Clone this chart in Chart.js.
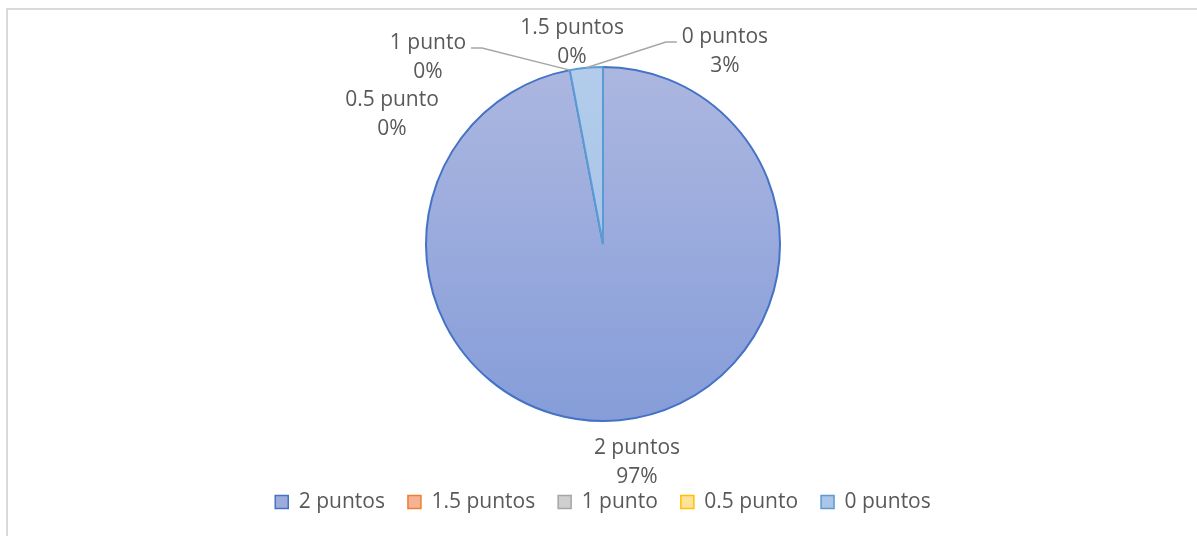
<!DOCTYPE html>
<html>
<head>
<meta charset="utf-8">
<script src="https://cdn.jsdelivr.net/npm/chart.js@4"></script>
<style>
  html, body { margin: 0; padding: 0; background: #fff; }
  #wrap { position: relative; width: 1197px; height: 536px; overflow: hidden; }
  #frame {
    position: absolute; left: 6px; top: 8px; right: -10px; bottom: -10px;
    border-top: 2px solid #d9d9d9; border-left: 2px solid #d9d9d9;
  }
  canvas { position: absolute; left: 0; top: 0; }
</style>
</head>
<body>
<div id="wrap">
  <div id="frame"></div>
  <canvas id="myChart" width="1197" height="536"></canvas>
</div>
<script>
// datos
const categories = ["2 puntos", "1.5 puntos", "1 punto", "0.5 punto", "0 puntos"];
const values = [97, 0, 0, 0, 3];

// colores
const borderColors = ["#4472c4", "#ed7d31", "#a5a5a5", "#ffc000", "#5b9bd5"];
const gradTop = ["#acb7e0", "#f7c2a9", "#d8d8d8", "#ffe6a8", "#b3cceb"];
const gradBottom = ["#869dd9", "#f2a27e", "#c4c4c4", "#ffd873", "#9ebde4"];
const legendFills = ["#9cacdd", "#f5b394", "#cfcfcf", "#ffe29a", "#a9c6e8"];

// posicion de etiquetas (relativa al centro, en radios)
const labelPlace = [
  [0.192, 1.232],
  [-0.175, -1.141],
  [-0.989, -1.051],
  [-1.192, -0.729],
  [0.689, -1.085],
];
const leaderLines = [false, false, true, false, true];

const pieRadius = 177;
const fontSize = 21;
const fontFamily = "'Open Sans', 'Noto Sans', sans-serif";
const textColor = "#595959";

function sliceGradient(context) {
  const chart = context.chart;
  const area = chart.chartArea;
  const i = context.dataIndex;
  if (!area) return gradTop[i];
  const cy = (area.top + area.bottom) / 2;
  const g = chart.ctx.createLinearGradient(0, cy - pieRadius, 0, cy + pieRadius);
  g.addColorStop(0, gradTop[i]);
  g.addColorStop(1, gradBottom[i]);
  return g;
}

// etiquetas de datos con lineas guia
const sliceLabels = {
  id: "sliceLabels",
  afterDatasetsDraw(chart) {
    const ctx = chart.ctx;
    const meta = chart.getDatasetMeta(0);
    const total = values.reduce((a, b) => a + b, 0);
    const lineH = 29;
    ctx.save();
    ctx.font = fontSize + "px " + fontFamily;
    ctx.textAlign = "center";
    ctx.textBaseline = "middle";
    meta.data.forEach((arc, i) => {
      const p = arc.getProps(["x", "y", "outerRadius", "startAngle", "endAngle"], true);
      const lx = p.x + labelPlace[i][0] * p.outerRadius;
      const ly = p.y + labelPlace[i][1] * p.outerRadius;
      const pct = Math.round((values[i] / total) * 100) + "%";

      if (leaderLines[i]) {
        const mid = (p.startAngle + p.endAngle) / 2;
        const ex = p.x + Math.cos(mid) * p.outerRadius;
        const ey = p.y + Math.sin(mid) * p.outerRadius;
        const w = ctx.measureText(categories[i]).width;
        const side = ex > lx ? 1 : -1;
        const sx = lx + side * (w / 2 + 5);
        const sy = ly - 10;
        ctx.strokeStyle = "#a6a6a6";
        ctx.lineWidth = 1.5;
        ctx.beginPath();
        ctx.moveTo(sx, sy);
        ctx.lineTo(sx + side * 11, sy);
        ctx.lineTo(ex, ey);
        ctx.stroke();
      }

      ctx.fillStyle = textColor;
      ctx.fillText(categories[i], lx, ly - lineH / 2);
      ctx.fillText(pct, lx, ly + lineH / 2);
    });
    ctx.restore();
  },
};

const ctx = document.getElementById("myChart").getContext("2d");
const myChart = new Chart(ctx, {
  type: "pie",
  data: {
    labels: categories,
    datasets: [
      {
        data: values,
        backgroundColor: sliceGradient,
        borderColor: borderColors,
        borderWidth: 2,
        radius: pieRadius,
      },
    ],
  },
  options: {
    responsive: false,
    animation: false,
    layout: {
      padding: { top: 19.5, bottom: 13.5, left: 9, right: 0 },
    },
    plugins: {
      tooltip: { enabled: false },
      legend: {
        position: "bottom",
        labels: {
          font: { family: fontFamily, size: fontSize },
          color: textColor,
          boxWidth: 13,
          boxHeight: 13,
          padding: 23,
          generateLabels: () =>
            categories.map((c, i) => ({
              text: c,
              fillStyle: legendFills[i],
              strokeStyle: borderColors[i],
              lineWidth: 1.5,
              fontColor: textColor,
              hidden: false,
              index: i,
            })),
        },
      },
    },
  },
  plugins: [sliceLabels],
});
</script>
</body>
</html>
